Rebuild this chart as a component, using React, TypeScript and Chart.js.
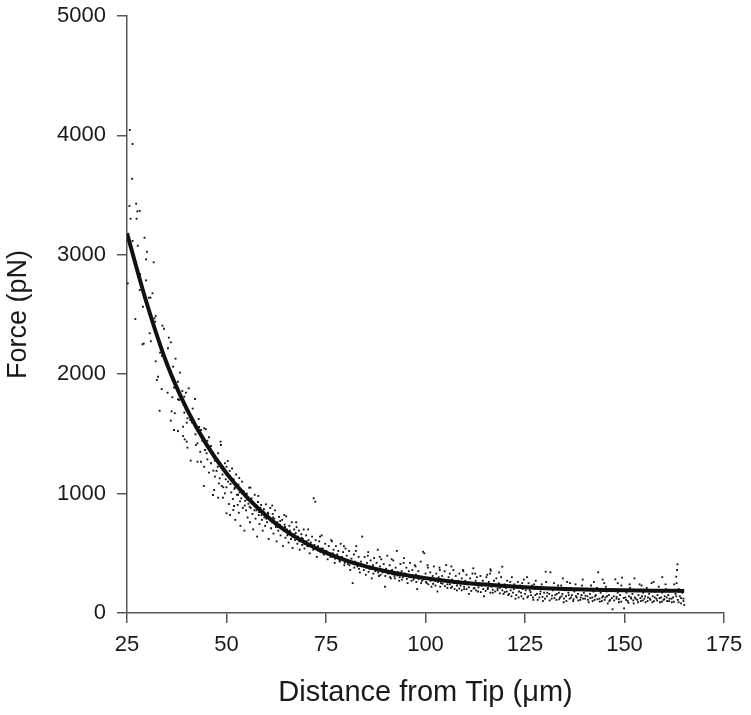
import React, { useEffect, useRef } from "react";
import { Chart, registerables } from "chart.js";

Chart.register(...registerables);

const FONT = '"Liberation Sans", Arial, Helvetica, sans-serif';

const xTickValues = [25, 50, 75, 100, 125, 150, 175];
const yTickValues = [0, 1000, 2000, 3000, 4000, 5000];
const xTitle = "Distance from Tip (μm)";
const yTitle = "Force (pN)";

// fitted curve
const fitX = [25, 30, 35, 40, 45, 50, 55, 60, 65, 70, 75, 80, 85, 90, 95, 100, 105, 110, 115, 120, 125, 130, 135, 140, 145, 150, 155, 160, 165];
const fitY = [3180, 2590, 2090, 1710, 1410, 1170, 975, 815, 685, 585, 505, 440, 390, 350, 318, 292, 270, 252, 238, 226, 216, 208, 202, 197, 193, 190, 188, 186, 185];

const tipPoints: [number, number][] = [
  [25.7,4045],[26.4,3928],[26.3,3637],[25.6,3409],[27.3,3428],[27.6,3364],[28.2,3367],[25.9,3302],[27.4,3302],[26.4,3116],
  [27.7,3076],[29.4,3143],[30.0,3026],[29.8,2962],[31.7,2937],[28.3,2837],[25.2,2761],[29.8,2786],[28.2,2705],[31.4,2678],
  [30.5,2641],[30.9,2641],[29.0,2565],[27.1,2462],[32.2,2487],[31.9,2468],[32.1,2440],[33.9,2406],[34.3,2381],[30.7,2343],
  [35.5,2306],[36.0,2267],[29.2,2256],[28.9,2250],[31.0,2276],[35.3,2217],[33.3,2181],[33.8,2153],[32.2,2108],[34.5,2125],
  [37.2,2130],[35.3,2069],[36.6,2063],[32.8,1979],[32.5,1952],[38.3,2013],[37.8,1937],[33.7,1876],[35.2,1845],[36.8,1887],
  [38.9,1859],[39.8,1845],[40.5,1882],[39.4,1812],[36.4,1807],[37.8,1790],[38.1,1784],[33.2,1694],[42.1,1792],[36.2,1689],
  [36.0,1611],[37.0,1673],[39.4,1678],[40.2,1631],[40.9,1616],[41.3,1597],[40.0,1594],[39.1,1560],[41.9,1594],[36.8,1533],
  [37.8,1524],[39.1,1482],[39.5,1454],[40.0,1435],[42.2,1497],[42.7,1527],[43.1,1558],[43.6,1533],[44.4,1547],[44.8,1539],
  [42.3,1407],[40.2,1385],[42.7,1421],[43.9,1443],[45.2,1443],[45.6,1472],[46.1,1399],[44.6,1365],[45.0,1338],[46.4,1338],
  [41.0,1276],[42.7,1267],[43.6,1267],[45.2,1287],[46.1,1254],[47.1,1276],[48.5,1435],[48.6,1407],[47.9,1338],[44.4,1225],
  [45.6,1175],[46.7,1192],[47.8,1225],[48.8,1212],[49.6,1254],[50.3,1273],[50.0,1225],[47.1,1142],[48.3,1128],[44.3,1064],
  [46.6,988],[46.9,1030],[48.1,1086],[48.8,1064],[49.2,1053],[50.0,1053],[50.4,1100],[47.9,966],[49.1,966],[50.0,835],
  [50.9,821],[51.7,863],[51.9,896],[50.6,913],[49.6,1002],[41.5,1712],[43.0,1625],[44.0,1480],[46.8,1310],[47.5,1190],
  [48.0,1250],[49.0,1160],[49.8,1120],[45.8,1360],[43.4,1350]
];

const midPoints: [number, number][] = [
  [50.5,1150],[50.8,1190],[51.0,1080],[51.2,1010],[51.4,1210],[51.6,955],[51.8,1120],[52.0,1040],[52.2,780],[52.4,1160],
  [52.6,990],[52.8,905],[53.0,1075],[53.1,840],[53.3,1010],[53.5,730],[53.7,960],[53.9,1100],[54.1,880],[54.3,1020],
  [54.5,690],[54.7,940],[54.9,860],[55.1,1000],[55.3,800],[55.5,915],[55.7,1050],[55.9,760],[56.1,880],[56.3,960],
  [56.5,830],[56.7,700],[56.9,905],[57.1,990],[57.3,790],[57.5,860],[57.7,640],[57.9,930],[58.1,820],[58.3,745],
  [58.5,880],[58.7,905],[58.9,780],[59.1,690],[59.3,850],[59.5,800],[59.7,730],[59.9,910],[60.2,760],[60.4,840],
  [60.6,620],[60.8,795],[61.0,880],[61.2,710],[61.4,760],[61.6,830],[61.8,665],[62.0,790],[62.2,860],[62.4,720],
  [62.6,600],[62.8,760],[63.0,690],[63.2,805],[63.4,740],[63.6,650],[63.8,710],[64.0,780],[64.2,560],[64.4,690],
  [64.6,740],[64.8,630],[65.0,810],[65.2,700],[65.4,660],[65.6,590],[65.8,730],[66.0,680],[66.2,620],[66.4,760],
  [66.6,545],[66.8,650],[67.0,700],[67.2,610],[67.4,670],[67.6,720],[67.8,580],[68.0,640],[68.2,690],[68.4,530],
  [68.6,610],[68.8,660],[69.0,570],[69.2,620],[69.4,700],[69.6,540],[69.8,600],[70.0,650],[70.3,560],[70.6,610],
  [70.9,500],[71.2,590],[71.5,640],[71.8,530],[71.9,961],[72.3,932],[72.1,570],[72.4,610],[72.7,470],[73.0,560],
  [73.3,600],[73.6,510],[73.9,650],[74.2,540],[74.5,490],[74.8,580],[75.1,520],[75.4,450],[75.7,560],[76.0,500],
  [76.3,610],[76.6,470],[76.9,530],[77.2,420],[77.5,560],[77.8,490],[78.1,520],[78.4,440],[78.7,580],[79.0,470],
  [79.3,510],[79.6,400],[79.9,540]
];

const farPoints: [number, number][] = [
  [80.2,480],[80.5,410],[80.8,520],[81.1,360],[81.4,455],[81.7,250],[82.0,490],[82.3,430],[82.6,560],[82.9,390],
  [83.2,470],[83.5,340],[83.8,430],[84.1,640],[84.4,400],[84.7,470],[85.0,320],[85.3,420],[85.6,510],[85.9,370],
  [86.2,440],[86.5,290],[86.8,400],[87.1,460],[87.4,350],[87.7,420],[88.0,530],[88.3,310],[88.6,390],[88.9,450],
  [89.2,340],[89.5,410],[89.8,220],[90.1,370],[90.4,480],[90.7,330],[91.0,400],[91.3,290],[91.6,360],[91.9,440],
  [92.2,310],[92.5,380],[92.8,520],[93.1,340],[93.4,270],[93.7,410],[94.0,350],[94.3,300],[94.6,460],[94.9,330],
  [95.2,380],[95.5,250],[95.8,350],[96.1,420],[96.4,300],[96.7,360],[97.0,280],[97.3,400],[97.6,320],[97.9,200],
  [98.2,350],[98.5,300],[98.8,430],[99.1,270],[99.4,513],[99.7,500],[100.0,330],[100.3,250],[100.6,380],[100.9,290],
  [101.2,340],[101.5,220],[101.8,310],[102.1,390],[102.4,270],[102.7,330],[103.0,180],[103.3,300],[103.6,360],[103.9,250],
  [104.2,310],[104.5,270],[104.8,350],[105.2,402],[105.5,240],[105.8,300],[106.1,330],[106.4,210],[106.7,280],[107.0,360],
  [107.3,250],[107.6,310],[107.9,190],[108.2,270],[108.5,330],[108.8,230],[109.1,290],[109.4,360],[109.7,200],[110.0,270],
  [110.3,320],[110.6,240],[110.9,160],[111.2,290],[111.5,250],[111.8,330],[112.0,374],[112.3,210],[112.6,270],[112.9,300],
  [113.2,180],[113.5,250],[113.8,310],[114.1,230],[114.4,270],[114.7,140],[115.0,240],[115.3,300],[115.6,200],[115.9,260],
  [116.2,330],[116.4,354],[116.3,366],[116.6,220],[116.9,170],[117.2,270],[117.5,230],[117.8,290],[118.1,190],[118.4,250],
  [118.7,210],[119.0,300],[119.3,388],[119.6,160],[119.9,240]
];

const bandPoints: [number, number][] = [
  [52.1,1050],[52.9,990],[53.4,935],[54.0,1000],[54.6,900],[55.2,950],[55.8,890],[56.4,920],[57.0,860],[57.6,900],
  [58.2,845],[58.8,820],[59.4,870],[60.0,790],[60.5,830],[61.1,770],[61.7,800],[62.3,740],[62.9,720],[63.5,770],
  [64.1,700],[64.7,720],[65.3,650],[65.9,690],[66.5,640],[67.1,660],[67.7,620],[68.3,600],[68.9,630],[69.5,580],
  [70.1,600],[70.7,560],[71.3,570],[71.9,540],[72.5,550],[73.1,520],[73.7,540],[74.3,500],[74.9,515],[75.5,490],
  [76.1,470],[76.7,500],[77.3,455],[77.9,470],[78.5,430],[79.1,450],[79.7,420],[80.3,440],[80.9,400],[81.5,420],
  [82.1,380],[82.7,410],[83.3,370],[83.9,395],[84.5,360],[85.1,380],[85.7,345],[86.3,370],[86.9,330],[87.5,360],
  [88.1,340],[88.7,320],[89.3,355],[89.9,310],[90.5,335],[91.1,300],[91.7,325],[92.3,290],[92.9,315],[93.5,300],
  [94.1,280],[94.7,310],[95.3,285],[95.9,300],[96.5,270],[97.1,295],[97.7,260],[98.3,285],[98.9,250],[99.5,280],
  [100.1,260],[100.7,240],[101.3,270],[101.9,245],[102.5,230],[103.1,260],[103.7,220],[104.3,245],[104.9,225],[105.5,210],
  [106.1,240],[106.7,220],[107.3,200],[107.9,230],[108.5,205],[109.1,190],[109.7,220],[110.3,200],[110.9,215],[111.5,185],
  [112.1,205],[112.7,190],[113.3,215],[113.9,175],[114.5,200],[115.1,185],[115.7,210],[116.3,170],[116.9,195],[117.5,180],
  [118.1,205],[118.7,165],[119.3,190],[119.9,175],
  [53.2,1130],[56.0,1050],[58.0,980],[61.5,900],[64.5,820],[67.5,760],[70.5,700],[73.5,640],[76.5,600],[79.5,560],
  [82.5,520],[85.5,480],[88.5,470],[91.5,450],[94.5,420],[97.5,390],[100.5,400],[103.5,380],[106.5,390],[109.5,350],
  [112.5,330],[115.5,320],[118.5,340]
];

const tailPoints: [number, number][] = [
  [120.2,210],[120.5,270],[120.8,150],[121.1,230],[121.4,190],[121.7,300],[122.0,170],[122.3,240],[122.6,120],[122.9,210],
  [123.2,260],[123.5,180],[123.8,230],[124.1,140],[124.4,200],[124.7,280],[125.0,160],[125.3,220],[125.6,130],[125.9,250],
  [126.2,190],[126.5,150],[126.8,230],[127.1,110],[127.4,200],[127.7,270],[128.0,160],[128.3,215],[128.6,130],[128.9,180],
  [129.2,240],[129.5,100],[129.8,170],[130.2,346],[130.5,140],[130.8,210],[131.1,160],[131.4,341],[131.7,120],[132.0,190],
  [132.3,250],[132.6,150],[132.9,110],[133.2,200],[133.5,170],[133.8,130],[134.1,230],[134.4,160],[134.7,90],[135.0,190],
  [135.3,140],[135.6,260],[135.9,170],[136.2,120],[136.5,210],[136.8,150],[137.1,100],[137.4,180],[137.7,240],[138.0,130],
  [138.3,160],[138.6,200],[138.9,110],[139.2,150],[139.5,280],[139.8,170],[140.1,120],[140.4,190],[140.7,140],[141.0,90],
  [141.3,160],[141.6,230],[141.9,130],[142.2,180],[142.5,110],[142.8,150],[143.1,210],[143.4,341],[143.7,120],[144.0,170],
  [144.3,100],[144.6,140],[144.9,250],[145.2,130],[145.5,180],[145.8,80],[146.1,150],[146.4,110],[146.7,200],[147.0,31],
  [147.3,140],[147.7,282],[148.0,120],[148.3,170],[148.6,90],[148.9,150],[149.2,230],[149.4,296],[149.9,39],[150.2,130],
  [150.5,170],[150.8,100],[151.1,140],[151.4,210],[151.7,120],[152.0,160],[152.3,80],[152.6,130],[152.9,190],[153.2,110],
  [153.5,150],[153.8,240],[154.1,100],[154.4,140],[154.7,170],[155.0,120],[155.3,90],[155.6,210],[155.9,130],[156.2,160],
  [156.5,110],[156.8,250],[157.1,140],[157.4,100],[157.7,180],[158.0,120],[158.3,150],[158.6,220],[158.9,90],[159.2,130],
  [159.5,170],[159.8,110],[160.1,140],[160.4,200],[160.7,100],[161.0,150],[161.3,120],[161.6,180],[161.9,90],[162.2,130],
  [162.5,240],[162.8,160],[163.0,304],[163.3,408],[163.2,360],[163.4,110],[163.6,200],[163.9,140],[164.2,80],[164.5,170],
  [164.8,120],[165.0,67]
];

const tailBandPoints: [number, number][] = [
  [120.4,180],[121.0,160],[121.6,140],[122.2,200],[122.8,150],[123.4,130],[124.0,170],[124.6,120],[125.2,190],[125.8,140],
  [126.4,175],[127.0,130],[127.6,150],[128.2,110],[128.8,160],[129.4,135],[130.0,120],[130.6,170],[131.2,105],[131.8,145],
  [132.4,125],[133.0,160],[133.6,115],[134.2,140],[134.8,120],[135.4,100],[136.0,150],[136.6,130],[137.2,115],[137.8,140],
  [138.4,105],[139.0,130],[139.6,120],[140.2,145],[140.8,110],[141.4,125],[142.0,100],[142.6,140],[143.2,115],[143.8,95],
  [144.4,130],[145.0,110],[145.6,140],[146.2,100],[146.8,125],[147.4,105],[148.0,135],[148.6,115],[149.2,95],[149.8,125],
  [150.4,110],[151.0,85],[151.6,130],[152.2,105],[152.8,120],[153.4,90],[154.0,125],[154.6,105],[155.2,140],[155.8,100],
  [156.4,120],[157.0,90],[157.6,130],[158.2,105],[158.8,125],[159.4,95],[160.0,115],[160.6,130],[161.2,100],[161.8,120],
  [162.4,95],[163.0,140],[163.6,90],[164.2,125],[164.8,100],
  [121.3,260],[124.3,250],[127.3,240],[130.3,260],[133.3,230],[136.3,250],[139.3,230],[142.3,260],[145.3,220],[148.3,250],
  [151.3,240],[154.3,230],[157.3,260],[160.3,240],[163.1,250],[125.5,300],[134.5,290],[144.5,280],[152.5,290],[159.5,300]
];

export default function App() {
  const ref = useRef<HTMLCanvasElement>(null);
  useEffect(() => {
    document.body.style.margin = "0";
    document.body.style.overflow = "hidden";
    const all = [...tipPoints, ...midPoints, ...farPoints, ...bandPoints, ...tailPoints, ...tailBandPoints];
    const textColor = "#1a1a1a";
    const axisColor = "#555555";
    const chart = new Chart(ref.current as HTMLCanvasElement, {
      type: "scatter",
      data: {
        datasets: [
          {
            type: "line",
            data: fitX.map((x, i) => ({ x, y: fitY[i] })),
            borderColor: "#111111",
            borderWidth: 4,
            pointRadius: 0,
            fill: false,
            tension: 0.4,
            cubicInterpolationMode: "monotone",
            order: 1,
          } as any,
          {
            type: "scatter",
            data: all.map(([x, y]) => ({ x, y })),
            pointRadius: 1.3,
            pointStyle: "rect",
            pointBackgroundColor: "#111111",
            pointBorderWidth: 0,
            order: 2,
          } as any,
        ],
      },
      options: {
        animation: false,
        responsive: false,
        maintainAspectRatio: false,
        layout: { padding: { top: 16, right: 27, bottom: 0, left: 0 } },
        plugins: { legend: { display: false }, tooltip: { enabled: false } },
        scales: {
          x: {
            type: "linear",
            min: 25,
            max: 175,
            afterBuildTicks: (s: any) => {
              s.ticks = xTickValues.map((v) => ({ value: v }));
            },
            afterFit: (s: any) => {
              s.height = 102;
              s.paddingLeft = 0;
              s.paddingRight = 0;
            },
            ticks: { font: { family: FONT, size: 22 }, color: textColor, padding: 9, callback: (v: any) => String(v) },
            grid: { drawOnChartArea: false, drawTicks: true, tickLength: 10, color: axisColor, lineWidth: 1.5 },
            border: { display: true, color: axisColor, width: 1.5 },
            title: {
              display: true,
              text: xTitle,
              font: { family: FONT, size: 29 },
              color: textColor,
              padding: { top: 0, bottom: 5 },
            },
          },
          y: {
            type: "linear",
            min: 0,
            max: 5000,
            afterBuildTicks: (s: any) => {
              s.ticks = yTickValues.map((v) => ({ value: v }));
            },
            afterFit: (s: any) => {
              s.width = 127;
              s.paddingTop = 0;
              s.paddingBottom = 0;
            },
            ticks: { font: { family: FONT, size: 22 }, color: textColor, padding: 11, callback: (v: any) => String(v) },
            grid: { drawOnChartArea: false, drawTicks: true, tickLength: 10, color: axisColor, lineWidth: 1.5 },
            border: { display: true, color: axisColor, width: 1.5 },
            title: {
              display: true,
              text: yTitle,
              font: { family: FONT, size: 27 },
              color: textColor,
              padding: { top: 2, bottom: 0 },
            },
          },
        },
      } as any,
    });
    return () => chart.destroy();
  }, []);
  return <canvas ref={ref} width={751} height={715} style={{ display: "block" }} />;
}
